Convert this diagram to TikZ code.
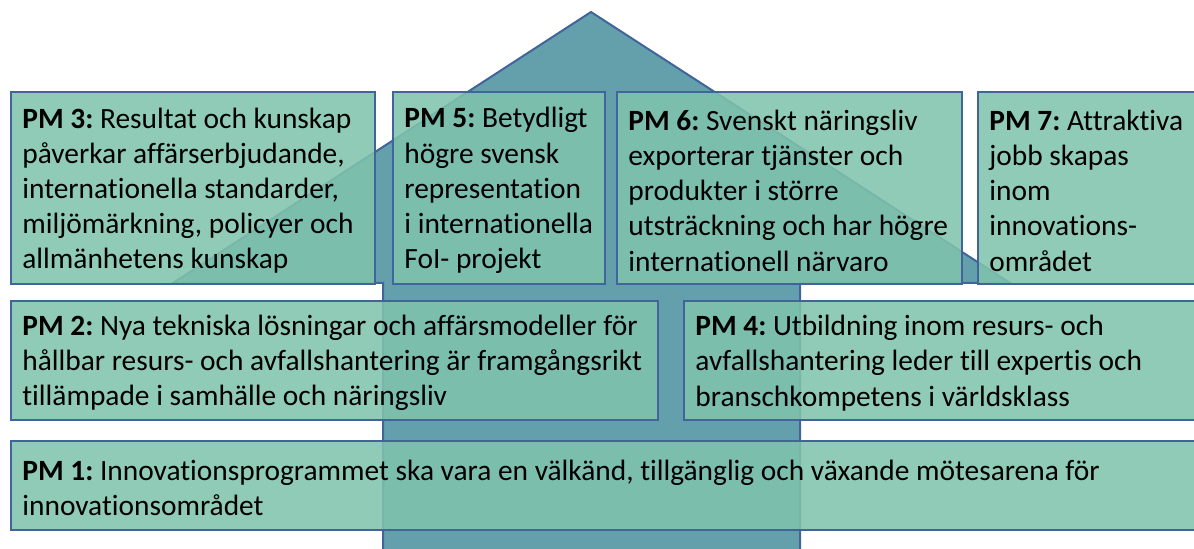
\documentclass[tikz,border=0pt]{standalone}
\usepackage{fontspec}
\setmainfont{Carlito}[Ligatures=NoCommon]
\definecolor{bordc}{RGB}{65,100,155}
\definecolor{arrowc}{RGB}{99,160,172}
\definecolor{boxc}{RGB}{128,195,172}
\begin{document}
\frenchspacing
\begin{tikzpicture}[x=0.5pt,y=-0.5pt,
  pmbox/.style={draw=bordc, line width=1.2pt, fill=boxc, fill opacity=0.87,
    draw opacity=1, anchor=north west, inner sep=0pt},
  pmtext/.style={anchor=west, align=left, inner sep=0pt, text=black,
    font=\fontsize{14.7pt}{17.6pt}\selectfont}]
\useasboundingbox (0,0) rectangle (1194,549);
\clip (0,0) rectangle (1194,549);
\draw[draw=bordc, line width=1pt, fill=arrowc]
  (591,12) -- (1010,283) -- (800,283) -- (800,570) -- (383,570) -- (383,283) -- (173,283) -- cycle;
\node[pmbox, minimum width=182pt, minimum height=96pt] (pm3) at (10,91) {};
\node[pmbox, minimum width=106pt, minimum height=96pt] (pm5) at (392,91) {};
\node[pmbox, minimum width=172.5pt, minimum height=96pt] (pm6) at (616,91) {};
\node[pmbox, minimum width=121.5pt, minimum height=96pt] (pm7) at (977,91) {};
\node[pmbox, minimum width=323.5pt, minimum height=59.5pt] (pm2) at (10,300) {};
\node[pmbox, minimum width=268.5pt, minimum height=59.5pt] (pm4) at (683,300) {};
\node[pmbox, minimum width=605pt, minimum height=44.5pt] (pm1) at (10,440) {};
\node[pmtext] (t3) at ([xshift=6pt,yshift=-1.2pt]pm3.west)
  {\textbf{PM 3:} Resultat och kunskap\\påverkar affärserbjudande,\\internationella standarder,\\miljömärkning, policyer och\\allmänhetens kunskap};
\node[pmtext] (t5) at ([xshift=6pt,yshift=-1.2pt]pm5.west)
  {\textbf{PM 5:} Betydligt\\högre svensk\\representation\\i internationella\\FoI- projekt};
\node[pmtext] (t6) at ([xshift=6pt,yshift=-1.2pt]pm6.west)
  {\textbf{PM 6:} Svenskt näringsliv\\exporterar tjänster och\\produkter i större\\utsträckning och har högre\\internationell närvaro};
\node[pmtext] (t7) at ([xshift=6pt,yshift=-1.2pt]pm7.west)
  {\textbf{PM 7:} Attraktiva\\jobb skapas\\inom\\innovations-\\området};
\node[pmtext] (t2) at ([xshift=6pt,yshift=-1.2pt]pm2.west)
  {\textbf{PM 2:} Nya tekniska lösningar och affärsmodeller för\\hållbar resurs- och avfallshantering är framgångsrikt\\tillämpade i samhälle och näringsliv};
\node[pmtext] (t4) at ([xshift=6pt,yshift=-1.2pt]pm4.west)
  {\textbf{PM 4:} Utbildning inom resurs- och\\avfallshantering leder till expertis och\\branschkompetens i världsklass};
\node[pmtext] (t1) at ([xshift=6pt,yshift=-1.2pt]pm1.west)
  {\textbf{PM 1:} Innovationsprogrammet ska vara en välkänd, tillgänglig och växande mötesarena för\\innovationsområdet};
\end{tikzpicture}
\end{document}
